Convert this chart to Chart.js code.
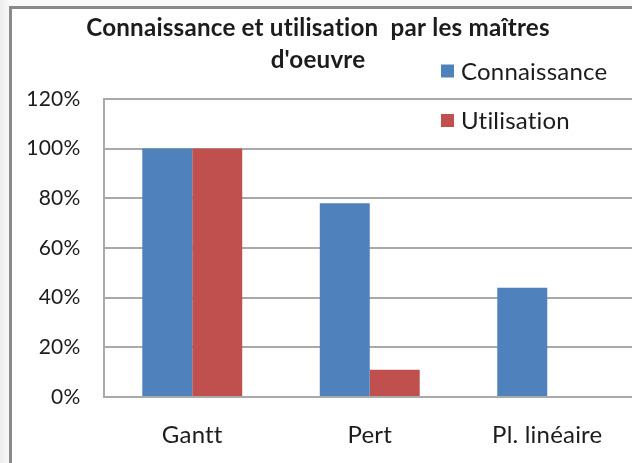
<!DOCTYPE html>
<html>
<head>
<meta charset="utf-8">
<script src="https://cdn.jsdelivr.net/npm/chart.js@4/dist/chart.umd.min.js"></script>
<style>
  html, body { margin: 0; padding: 0; width: 632px; height: 463px; overflow: hidden;
    background: linear-gradient(to right, #ececec, #fafafa 10px); }
  #frame { position: absolute; left: 9px; top: 6px; width: 700px; height: 520px;
    background: #fff; border-left: 3px solid #8a8a8a; border-top: 3px solid #8a8a8a; }
  #wrap { position: absolute; left: 0; top: 0; width: 640px; height: 463px; }
</style>
</head>
<body>
<div id="frame"></div>
<div id="wrap"><canvas id="c" width="640" height="463"></canvas></div>
<script>
const categories = ['Gantt', 'Pert', 'Pl. linéaire'];
const connaissance = [100, 78, 44];
const utilisation = [100, 11, 0];
const seriesNames = ['Connaissance', 'Utilisation'];
const titleLines = ["Connaissance et utilisation  par les maîtres", "d'oeuvre"];

const FONT = 'Lato, "Liberation Sans", sans-serif';
const TEXT = '#1c1c1c';

// Tiny letter spacing keeps "ti"/"fi" from being drawn as ligatures
const noLigatures = {
  id: 'noLigatures',
  beforeDraw(chart) { chart.ctx.letterSpacing = '0.2px'; }
};

// Vertical legend placed over the top-right of the plot
const sideLegend = {
  id: 'sideLegend',
  afterDraw(chart) {
    const ctx = chart.ctx;
    ctx.save();
    ctx.letterSpacing = '0.2px';
    ctx.font = '24px ' + FONT;
    ctx.textBaseline = 'middle';
    chart.data.datasets.forEach((ds, i) => {
      const y = 71 + i * 49.5;
      ctx.fillStyle = ds.backgroundColor;
      ctx.fillRect(441, y - 6.5, 13, 13);
      ctx.fillStyle = TEXT;
      ctx.fillText(ds.label, 461, y + 1);
    });
    ctx.restore();
  }
};

new Chart(document.getElementById('c'), {
  type: 'bar',
  data: {
    labels: categories,
    datasets: [
      { label: seriesNames[0], data: connaissance, backgroundColor: '#4f81bd' },
      { label: seriesNames[1], data: utilisation, backgroundColor: '#c0504d' }
    ]
  },
  options: {
    responsive: false,
    animation: false,
    layout: { padding: { left: 0, right: 4, top: 0, bottom: 0 } },
    datasets: { bar: { categoryPercentage: 0.563, barPercentage: 1 } },
    plugins: {
      legend: { display: false },
      tooltip: { enabled: false },
      title: {
        display: true,
        text: titleLines,
        color: TEXT,
        font: { family: FONT, size: 24.2, weight: 'bold', lineHeight: 1.29 },
        padding: { top: 13, bottom: 23.5 }
      }
    },
    scales: {
      x: {
        grid: { display: false, drawTicks: false },
        border: { display: false },
        ticks: { color: TEXT, font: { family: FONT, size: 24 }, padding: 24 },
        afterFit(s) { s.height = 66; }
      },
      y: {
        min: 0, max: 120,
        grid: { color: '#a9a9a9', lineWidth: 2, drawTicks: false },
        border: { display: true, color: '#a9a9a9', width: 2 },
        ticks: {
          stepSize: 20, color: TEXT, padding: 23,
          font: { family: FONT, size: 21 },
          callback: v => v + '%'
        },
        afterFit(s) { s.width = 103.5; }
      }
    }
  },
  plugins: [noLigatures, sideLegend]
});
</script>
</body>
</html>
